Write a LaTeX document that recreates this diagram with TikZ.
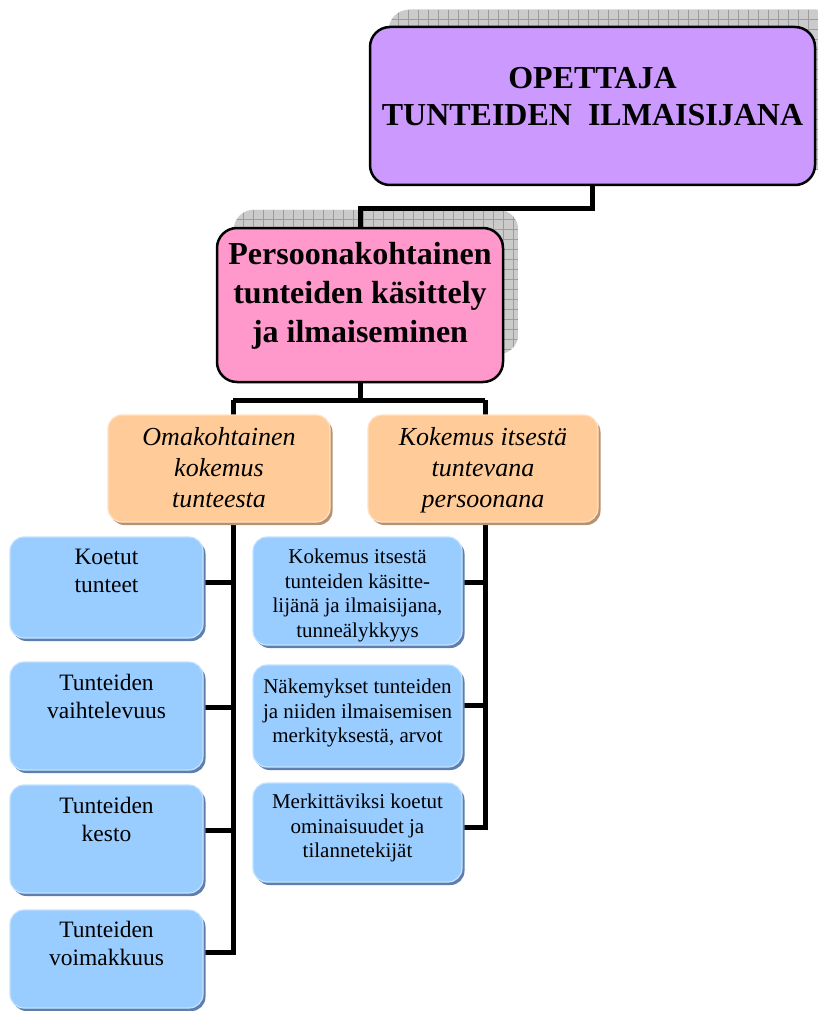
\documentclass[tikz,border=0pt]{standalone}
\usepackage{fontspec}
\setmainfont{Liberation Serif}
\usetikzlibrary{shadows}

\definecolor{lilac}{HTML}{CC99FF}
\definecolor{rose}{HTML}{FF99CC}
\definecolor{peach}{HTML}{FFCC99}
\definecolor{peachlight}{HTML}{FFE0C2}
\definecolor{peachdark}{HTML}{B8926E}
\definecolor{sky}{HTML}{99CCFF}
\definecolor{skylight}{HTML}{C4E2FF}
\definecolor{skydark}{HTML}{5E7FAE}
\definecolor{gridbase}{HTML}{CBCBCB}
\definecolor{gridrule}{HTML}{9C9C9C}

\pgfdeclarelayer{shadowlayer}
\pgfdeclarelayer{wirelayer}
\pgfsetlayers{shadowlayer,wirelayer,main}

\tikzset{
  headbox/.style={rectangle, rounded corners=20pt, draw=black, line width=2.5pt, inner sep=0pt},
  peachbox/.style={rectangle, rounded corners=14pt, fill=peach, draw=peachlight, line width=1.2pt, inner sep=0pt,
    drop shadow={shadow xshift=2.5pt, shadow yshift=-3pt, fill=peachdark, opacity=1}},
  skybox/.style={rectangle, rounded corners=14pt, fill=sky, draw=skylight, line width=1.2pt, inner sep=0pt,
    drop shadow={shadow xshift=2.5pt, shadow yshift=-3pt, fill=skydark, opacity=1}},
  wire/.style={draw=black, line width=5pt},
  headtext/.style={anchor=north, inner sep=0pt, align=center, font=\fontsize{32}{37}\selectfont\bfseries},
  rosetext/.style={anchor=north, inner sep=0pt, align=center, font=\fontsize{32}{39}\selectfont\bfseries},
  peachtext/.style={anchor=north, inner sep=0pt, align=center, font=\fontsize{26}{31}\selectfont\itshape},
  leaftextL/.style={anchor=north, inner sep=0pt, align=center, font=\fontsize{23.5}{28}\selectfont},
  leaftextR/.style={anchor=north, inner sep=0pt, align=center, font=\fontsize{21}{24.7}\selectfont},
}

% grid-patterned shadow between two named corner coordinates
\newcommand\gridshadow[2]{%
  \begin{scope}
    \clip[rounded corners=20pt] (#1) rectangle (#2);
    \fill[gridbase] (#1) rectangle (#2);
    \foreach \k in {0,10,...,460} {
      \draw[gridrule, line width=0.7pt] ([xshift=\k pt]#1) -- ([xshift=\k pt]#1 |- #2);
    }
    \foreach \k in {0,10,...,200} {
      \draw[gridrule, line width=0.7pt] ([yshift=-\k pt]#1) -- ([yshift=-\k pt]#1 -| #2);
    }
  \end{scope}}

\begin{document}
\begin{tikzpicture}[x=1pt, y=-1pt]
\useasboundingbox (0,0) rectangle (818,1011);

% head boxes
\node[headbox, fill=lilac, minimum width=445pt, minimum height=158pt] (top) at (592.5,106) {};
\node[headtext] (toplabel) at (592.5,67) {OPETTAJA\\TUNTEIDEN\ \ ILMAISIJANA};

\node[headbox, fill=rose, minimum width=286pt, minimum height=154pt] (pink) at (360,305) {};
\node[rosetext] (pinklabel) at (360,242) {Persoonakohtainen\\tunteiden käsittely\\ja ilmaiseminen};

% second level
\node[peachbox, minimum width=222pt, minimum height=107pt] (oL) at (219,468.5) {};
\node[peachtext] (oLlabel) at (219,427) {Omakohtainen\\kokemus\\tunteesta};
\node[peachbox, minimum width=230pt, minimum height=107pt] (oR) at (483,468.5) {};
\node[peachtext] (oRlabel) at (483,427) {Kokemus itsestä\\tuntevana\\persoonana};

% left leaves
\node[skybox, minimum width=193pt, minimum height=101pt] (lb1) at (106.5,587.5) {};
\node[leaftextL] (lb1label) at (106.5,549.4) {Koetut\\tunteet};
\node[skybox, minimum width=193pt, minimum height=108pt] (lb2) at (106.5,716) {};
\node[leaftextL] (lb2label) at (106.5,674) {Tunteiden\\vaihtelevuus};
\node[skybox, minimum width=193pt, minimum height=108pt] (lb3) at (106.5,839) {};
\node[leaftextL] (lb3label) at (106.5,797) {Tunteiden\\kesto};
\node[skybox, minimum width=193pt, minimum height=98pt] (lb4) at (106.5,959) {};
\node[leaftextL] (lb4label) at (106.5,921) {Tunteiden\\voimakkuus};

% right leaves
\node[skybox, minimum width=209pt, minimum height=108pt] (rb1) at (357.5,591) {};
\node[leaftextR] (rb1label) at (357.5,548.7) {Kokemus itsestä\\tunteiden käsitte-\\lijänä ja ilmaisijana,\\tunneälykkyys};
\node[skybox, minimum width=209pt, minimum height=102pt] (rb2) at (357.5,716) {};
\node[leaftextR] (rb2label) at (357.5,678.7) {Näkemykset tunteiden\\ja niiden ilmaisemisen\\merkityksestä, arvot};
\node[skybox, minimum width=209pt, minimum height=99pt] (rb3) at (357.5,832.5) {};
\node[leaftextR] (rb3label) at (357.5,793.7) {Merkittäviksi koetut\\ominaisuudet ja\\tilannetekijät};

% shadows of the head boxes
\coordinate (topshA) at ([shift={(20,-16)}]top.north west);
\coordinate (topshB) at ([shift={(20,-16)}]top.south east);
\coordinate (pinkshA) at ([shift={(18,-17)}]pink.north west);
\coordinate (pinkshB) at ([shift={(14,-29)}]pink.south east);
\begin{pgfonlayer}{shadowlayer}
  \gridshadow{topshA}{topshB}
  \gridshadow{pinkshA}{pinkshB}
\end{pgfonlayer}

% connectors
\begin{pgfonlayer}{wirelayer}
  \coordinate (trunkL) at (233,400);
  \coordinate (trunkR) at (485,400);
  \draw[wire] (top.south) -- ++(0,22) -| (pink.north);
  \draw[wire] (pink.south) -- (pink.south |- trunkL);
  \draw[wire] (trunkL) -- (trunkR);
  \draw[wire] (trunkL) -- ([yshift=7pt]lb4.east -| trunkL) -- ([yshift=7pt]lb4.east);
  \draw[wire] ([yshift=5.5pt]lb1.east) -- ([yshift=5.5pt]lb1.east -| trunkL);
  \draw[wire] ([yshift=9pt]lb2.east) -- ([yshift=9pt]lb2.east -| trunkL);
  \draw[wire] ([yshift=9pt]lb3.east) -- ([yshift=9pt]lb3.east -| trunkL);
  \draw[wire] (trunkR) -- ([yshift=5.5pt]rb3.east -| trunkR) -- ([yshift=5.5pt]rb3.east);
  \draw[wire] ([yshift=9pt]rb1.east) -- ([yshift=9pt]rb1.east -| trunkR);
  \draw[wire] ([yshift=11pt]rb2.east) -- ([yshift=11pt]rb2.east -| trunkR);
\end{pgfonlayer}
\end{tikzpicture}
\end{document}
